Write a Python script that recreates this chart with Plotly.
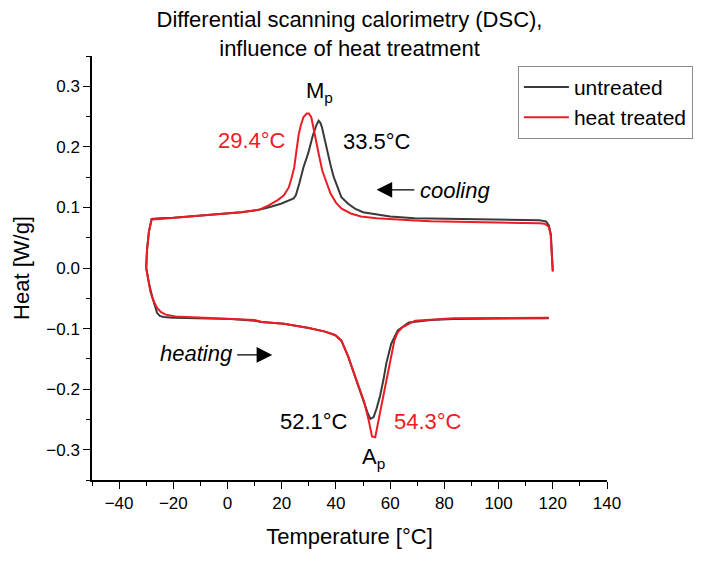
import plotly.graph_objects as go

# Curvas DSC: resfriamento (120 -> -30 °C) seguido de aquecimento (-30 -> 120 °C)
untreated_T = [
    120.0, 119.7, 119.3, 118.6, 117.5, 115, 105, 95, 85, 75, 69, 60, 55, 50, 47, 44.5,
    42, 40.5, 39.2, 38, 36.8, 35.5, 34.8, 34.2, 33.6, 32.8, 31.5, 29.8, 28, 26.5, 25.2,
    24.4, 22, 19.7, 15, 11.5, 5, 0, -5, -10, -15.7, -20, -25, -28, -29, -29.7, -30,
    -29, -27.7, -26, -25, -23.6, -20, -10, 1.3, 10, 12.6, 20.8, 30, 36, 39.8, 42, 44.5,
    47.4, 49.8, 51.6, 52.7, 53.9, 55, 56.3, 57.5, 58.6, 60.4, 62.8, 66.9, 75, 83.4, 100,
    118.5,
]
untreated_heat = [
    -0.005, 0.03, 0.055, 0.07, 0.077, 0.079, 0.0795, 0.080, 0.081, 0.0815, 0.082, 0.085,
    0.088, 0.092, 0.098, 0.106, 0.117, 0.133, 0.150, 0.170, 0.193, 0.222, 0.233, 0.240,
    0.243, 0.236, 0.219, 0.19, 0.166, 0.14, 0.12, 0.115, 0.110, 0.106, 0.100, 0.096,
    0.092, 0.090, 0.088, 0.086, 0.084, 0.083, 0.082, 0.081, 0.06, 0.03, 0.0,
    -0.025, -0.049, -0.074, -0.079, -0.081, -0.082, -0.083, -0.084, -0.087, -0.089,
    -0.092, -0.099, -0.105, -0.111, -0.120, -0.146, -0.184, -0.216, -0.238, -0.249,
    -0.246, -0.232, -0.211, -0.185, -0.157, -0.125, -0.103, -0.090, -0.086, -0.084,
    -0.083, -0.083,
]

treated_T = [
    120.0, 119.6, 119.2, 118.5, 117, 115, 105, 95, 85, 75, 69.2, 60, 55, 49.2, 45.5,
    42.1, 40, 38, 36.5, 35, 33.8, 32.7, 31.7, 30.9, 30, 29.2, 28, 27, 26.2, 25.2, 24.6,
    23.6, 22.6, 20.8, 18.5, 15, 11.5, 5, 0, -5, -10, -15.7, -20, -25, -28, -29, -29.7,
    -30, -29.2, -28.4, -27.2, -26, -24.5, -22.8, -19.2, -10, 0, 10, 12.6, 20.8, 30, 36,
    39.8, 42, 44.5, 47.4, 50.4, 52.2, 53.3, 54.5, 55.1, 56.3, 57.5, 59.8, 61.6, 62.8,
    64.5, 69.2, 83.4, 100, 118.5,
]
treated_heat = [
    -0.006, 0.03, 0.055, 0.068, 0.073, 0.074, 0.0745, 0.075, 0.0755, 0.077, 0.0785,
    0.080, 0.082, 0.085, 0.09, 0.098, 0.108, 0.123, 0.140, 0.160, 0.185, 0.209, 0.232,
    0.249, 0.255, 0.255, 0.249, 0.235, 0.219, 0.19, 0.166, 0.148, 0.133, 0.12, 0.112,
    0.103, 0.096, 0.092, 0.090, 0.088, 0.086, 0.084, 0.0825, 0.081, 0.080, 0.06, 0.03,
    0.0, -0.02, -0.04, -0.055, -0.066, -0.073, -0.077, -0.080, -0.082, -0.083, -0.086,
    -0.089, -0.092, -0.099, -0.105, -0.111, -0.120, -0.146, -0.184, -0.221, -0.254,
    -0.278, -0.2795, -0.264, -0.238, -0.211, -0.157, -0.119, -0.106, -0.098, -0.087,
    -0.083, -0.0825, -0.082,
]

series_names = ["untreated", "heat treated"]
peak_labels = ["33.5°C", "29.4°C", "52.1°C", "54.3°C"]

BLACK = "#3a3a3a"
RED = "#ec1c24"
FONT = "Liberation Sans, Arial, sans-serif"

fig = go.Figure()
fig.add_trace(go.Scatter(x=untreated_T, y=untreated_heat, mode="lines",
                         name=series_names[0], line=dict(color=BLACK, width=2)))
fig.add_trace(go.Scatter(x=treated_T, y=treated_heat, mode="lines",
                         name=series_names[1], line=dict(color=RED, width=2)))

txt = dict(size=22, family=FONT)
anns = [
    dict(x=34, y=0.29, text="M<sub>p</sub>", font=dict(color="black", **txt)),
    dict(x=9, y=0.211, text=peak_labels[1], font=dict(color=RED, **txt)),
    dict(x=55, y=0.209, text=peak_labels[0], font=dict(color="black", **txt)),
    dict(x=32, y=-0.254, text=peak_labels[2], font=dict(color="black", **txt)),
    dict(x=74, y=-0.254, text=peak_labels[3], font=dict(color=RED, **txt)),
    dict(x=54, y=-0.313, text="A<sub>p</sub>", font=dict(color="black", **txt)),
    dict(x=84, y=0.128, text="<i>cooling</i>", font=dict(color="black", **txt)),
    dict(x=-11.5, y=-0.141, text="<i>heating</i>", font=dict(color="black", **txt)),
]
for a in anns:
    fig.add_annotation(xref="x", yref="y", showarrow=False, **a)

# flechas de sentido (resfriamento / aquecimento)
for tip, tail, yy in [(55, 69.5, 0.129), (16.5, 3, -0.1435)]:
    fig.add_annotation(x=tip, y=yy, ax=tail, ay=yy, xref="x", yref="y",
                       axref="x", ayref="y", text="", showarrow=True,
                       arrowhead=2, arrowsize=2.4, arrowwidth=1.3, arrowcolor="black")

# a página tem margem de 8 px no body: figura um pouco menor para caber na janela
fig.update_layout(
    width=697, height=549,
    margin=dict(l=75, r=85, t=48, b=67),
    paper_bgcolor="white", plot_bgcolor="white",
    font=dict(family=FONT, color="black"),
    title=dict(text="Differential scanning calorimetry (DSC),<br>influence of heat treatment",
               x=0.5, xref="paper", xanchor="center", y=0.965, yanchor="top",
               font=dict(size=22, family=FONT, color="black")),
    legend=dict(x=0.827, y=0.977, xanchor="left", yanchor="top",
                bordercolor="#8c8c8c", borderwidth=1, bgcolor="white",
                font=dict(size=21, family=FONT, color="black"),
                itemwidth=45, tracegroupgap=0),
    showlegend=True,
)

fig.update_xaxes(
    range=[-50, 140], tick0=-40, dtick=20, ticks="outside", ticklen=7, tickwidth=1.3,
    tickcolor="black", showline=True, linecolor="black", linewidth=1.5, mirror=False,
    showgrid=False, zeroline=False, tickfont=dict(size=17, family=FONT, color="black"),
    minor=dict(ticks="outside", ticklen=4, tickwidth=1.3, tickcolor="black",
               tick0=-50, dtick=10, showgrid=False),
    title=dict(text="Temperature [°C]", standoff=16,
               font=dict(size=22, family=FONT, color="black")),
)
fig.update_yaxes(
    range=[-0.35, 0.35], tick0=0, dtick=0.1, tickformat=".1f", ticks="outside",
    ticklen=7, tickwidth=1.3, tickcolor="black", showline=True, linecolor="black",
    linewidth=1.5, mirror=False, showgrid=False, zeroline=False,
    tickfont=dict(size=17, family=FONT, color="black"),
    minor=dict(ticks="outside", ticklen=4, tickwidth=1.3, tickcolor="black",
               tick0=0.05, dtick=0.1, showgrid=False),
    title=dict(text="Heat [W/g]", standoff=11,
               font=dict(size=22, family=FONT, color="black")),
)

fig.write_html("out.html")
